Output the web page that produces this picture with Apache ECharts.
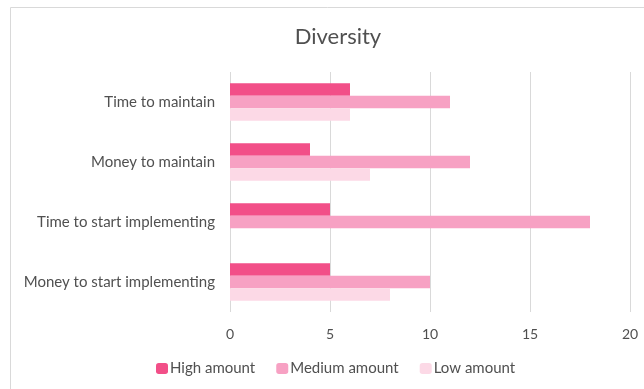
<!DOCTYPE html>
<html><head><meta charset="utf-8">
<script src="https://cdn.jsdelivr.net/npm/echarts@6/dist/echarts.min.js"></script>
<style>html,body{margin:0;padding:0;background:#fff}#c{width:644px;height:389px}</style>
</head><body><div id="c"></div>
<script>
const categories = ["Money to start implementing", "Time to start implementing", "Money to maintain", "Time to maintain"];
const highAmount = [5, 5, 4, 6];
const mediumAmount = [10, 18, 12, 11];
const lowAmount = [8, 0, 7, 6];
const xTicks = [0, 5, 10, 15, 20];

const chart = echarts.init(document.getElementById('c'));
const font = 'Lato, "Open Sans", sans-serif';
function s(name, data, color) {
  return { name, type: 'bar', data, barGap: '0%', barCategoryGap: '37.5%',
    itemStyle: { color }, emphasis: { disabled: true } };
}
chart.setOption({
  animation: false,
  title: { text: 'Diversity', left: 333, top: 21, textAlign: 'center',
    textStyle: { fontFamily: font, fontSize: 22, fontWeight: 'normal', color: '#505050' } },
  graphic: [{ type: 'rect', shape: { x: 10.5, y: 7.5, width: 700, height: 400 },
    style: { fill: 'none', stroke: '#d9d9d9', lineWidth: 1 }, silent: true }],
  legend: { bottom: 8, left: 151, itemWidth: 12, itemHeight: 11, itemGap: 21,
    data: ['High amount', 'Medium amount', 'Low amount'],
    textStyle: { fontFamily: font, fontSize: 15, color: '#505050', padding: [0, 0, 0, -3] } },
  grid: { left: 230, right: 14, top: 72, bottom: 77, containLabel: false },
  xAxis: { type: 'value', min: xTicks[0], max: xTicks[xTicks.length - 1], interval: xTicks[1] - xTicks[0],
    axisLine: { show: false }, axisTick: { show: false },
    axisLabel: { margin: 15, fontFamily: font, fontSize: 14, color: '#505050' },
    splitLine: { lineStyle: { color: '#d9d9d9', width: 1 } } },
  yAxis: { type: 'category', data: categories,
    axisLine: { show: false }, axisTick: { show: false },
    axisLabel: { margin: 15, fontFamily: font, fontSize: 15, color: '#505050' } },
  series: [
    s('High amount', highAmount, '#f24f88'),
    s('Medium amount', mediumAmount, '#f7a1c3'),
    s('Low amount', lowAmount, '#fcd9e6')
  ]
});
</script></body></html>
